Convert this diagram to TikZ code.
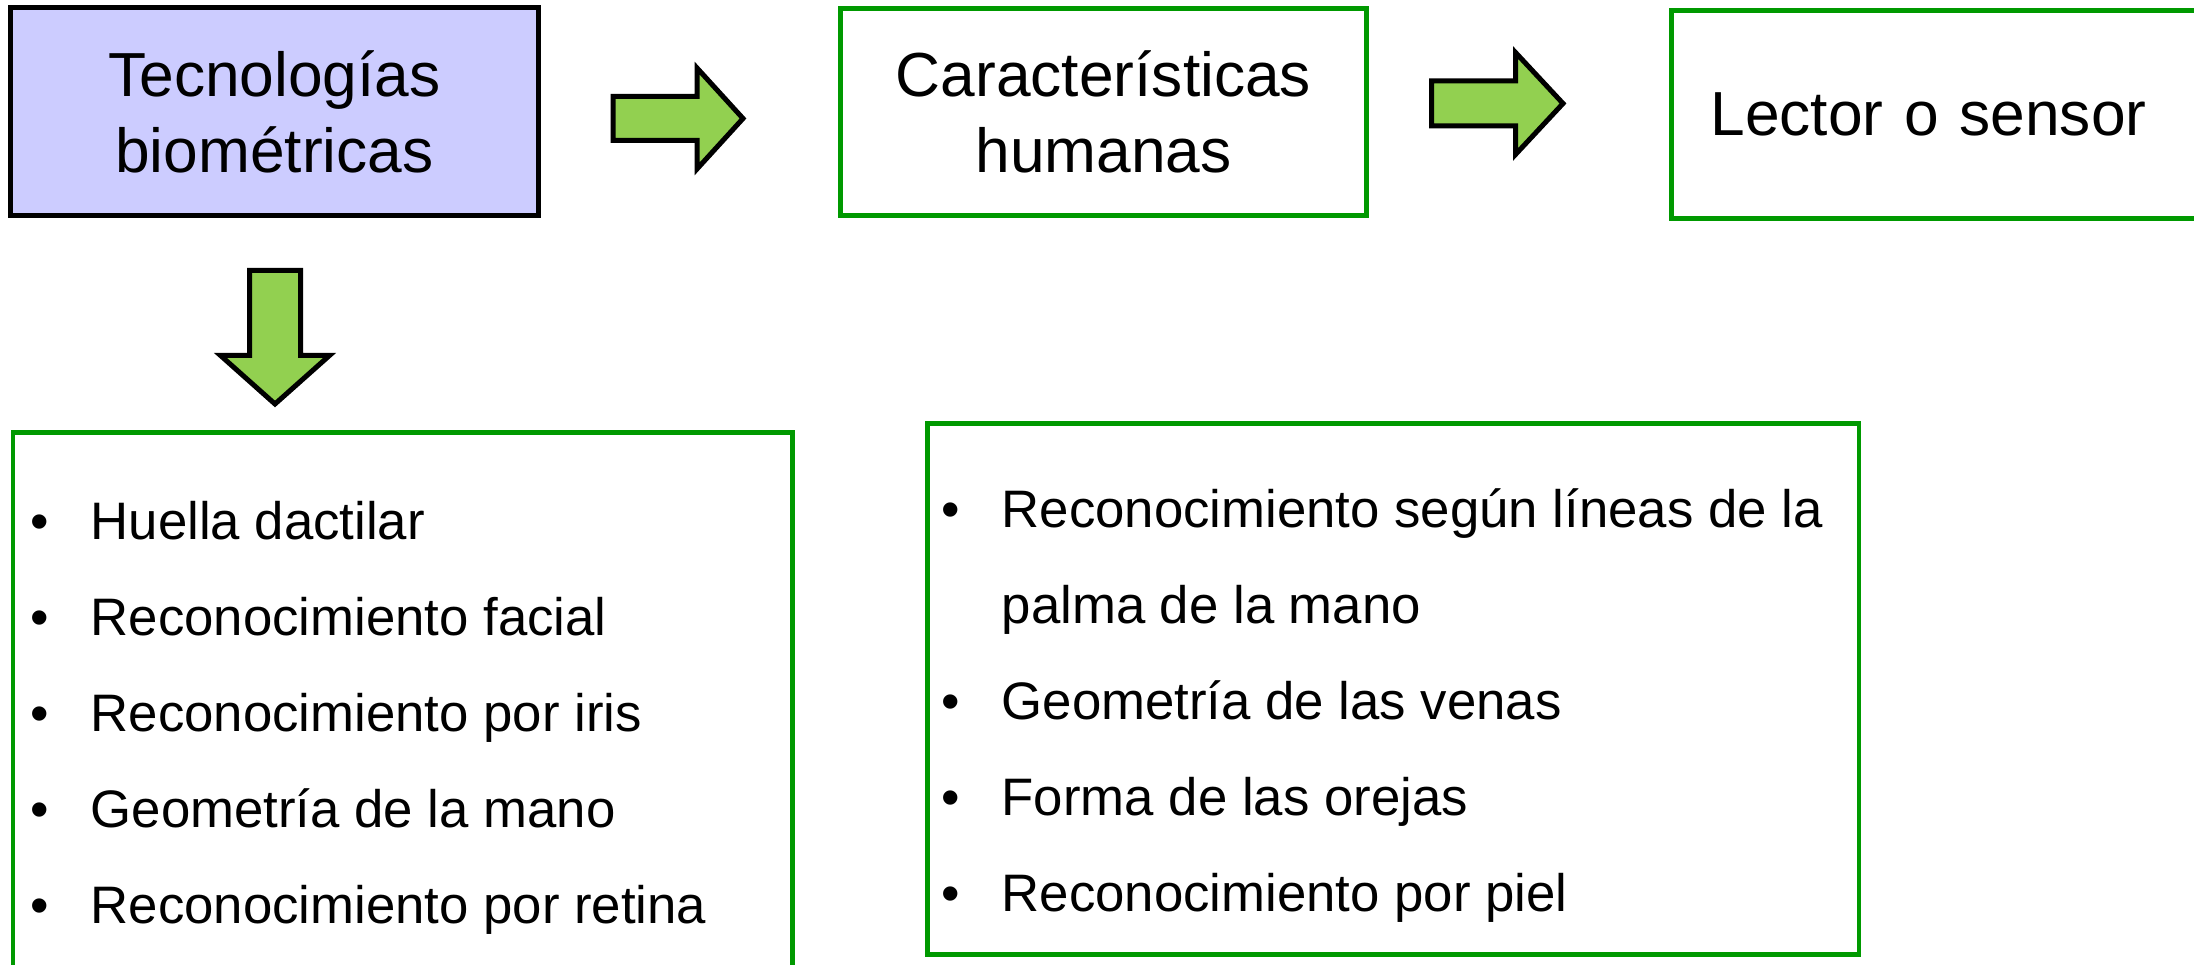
\documentclass[tikz,border=0pt]{standalone}
\usepackage{fontspec}
\setmainfont{Liberation Sans}
\definecolor{lavender}{HTML}{CCCCFF}
\definecolor{boxgreen}{HTML}{009900}
\definecolor{arrowgreen}{HTML}{92D050}
\begin{document}
\begin{tikzpicture}[x=0.01cm, y=-0.01cm,
    bigtext/.style={font=\fontsize{17.7}{21.6}\selectfont},
    bluebox/.style={draw=black, line width=1.42pt, fill=lavender, bigtext, align=center},
    greenbox/.style={draw=boxgreen, line width=1.4pt, bigtext},
    fat/.style={draw=black, line width=1.42pt, fill=arrowgreen, line join=miter},
    item/.style={anchor=base west, inner sep=0pt, font=\fontsize{15}{18}\selectfont},
    dot/.style={anchor=base, inner sep=0pt, font=\fontsize{15}{18}\selectfont}]
  \useasboundingbox (0,0) rectangle (2194,965);
  % top row
  \node[bluebox, minimum width=5.28cm, minimum height=2.08cm] (tec) at (274.5,111.5) {Tecnologías\\biométricas};
  \node[greenbox, align=center, minimum width=5.25cm, minimum height=2.07cm] (carac) at (1103.5,112) {Características\\humanas};
  \node[greenbox, anchor=north west, align=left, text width=5.1cm, inner xsep=0.39cm, minimum height=2.07cm] (lector) at (1669,8.5) {Lector o sensor};
  % block arrows
  \draw[fat] (613,96.5) -- (697,96.5) -- (697,68) -- (743,118.5) -- (697,169) -- (697,140.5) -- (613,140.5) -- cycle;
  \draw[fat] (1431.5,81) -- (1515.5,81) -- (1515.5,52.5) -- (1563,103.5) -- (1515.5,154.5) -- (1515.5,126) -- (1431.5,126) -- cycle;
  \draw[fat] (249.5,270.5) -- (300.5,270.5) -- (300.5,355.5) -- (329.5,355.5) -- (275,404) -- (220.5,355.5) -- (249.5,355.5) -- cycle;
  % lists
  \node[greenbox, anchor=north west, minimum width=7.79cm, minimum height=6cm] (listL) at (10.5,430) {};
  \node[greenbox, anchor=north west, minimum width=9.31cm, minimum height=5.31cm] (listR) at (925,421) {};
  \foreach \t [count=\i] in {Huella dactilar, Reconocimiento facial, Reconocimiento por iris, Geometría de la mano, Reconocimiento por retina} {
    \node[dot] (ld\i) at (40,{540+96*(\i-1)}) {•};
    \node[item] (li\i) at (90,{540+96*(\i-1)}) {\t};
  }
  \foreach \t [count=\i] in {Reconocimiento según líneas de la, palma de la mano, Geometría de las venas, Forma de las orejas, Reconocimiento por piel}
    \node[item] (ri\i) at (1001,{528+96*(\i-1)}) {\t};
  \foreach \i in {1,3,4,5}
    \node[dot] (rd\i) at (951,{528+96*(\i-1)}) {•};
\end{tikzpicture}
\end{document}
